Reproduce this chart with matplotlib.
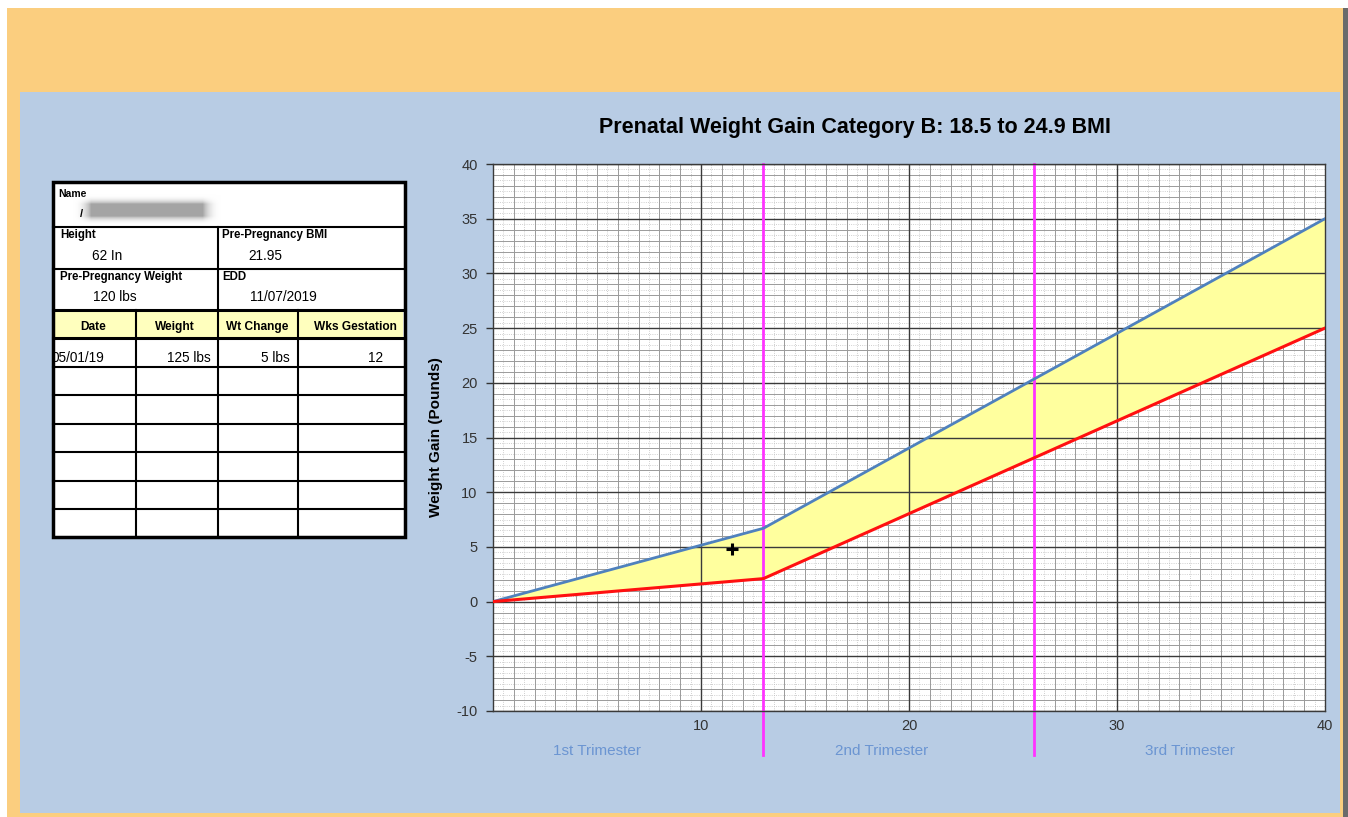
import numpy as np
import matplotlib
matplotlib.use("Agg")
import matplotlib.pyplot as plt
from matplotlib.patches import Rectangle

plt.rcParams['font.family'] = ['Liberation Sans', 'DejaVu Sans']
plt.rcParams['axes.unicode_minus'] = False

# chart data
weeks = [0, 13, 40]
upper_gain = [0, 6.7, 35]
lower_gain = [0, 2.1, 25]
trimester_bounds = [13, 26]
trimester_names = ['1st Trimester', '2nd Trimester', '3rd Trimester']
trimester_pos = [5.0, 18.7, 33.5]
visit_weeks = [11.5]
visit_gain = [4.8]
x_ticks = [10, 20, 30, 40]
y_ticks = [-10, -5, 0, 5, 10, 15, 20, 25, 30, 35, 40]

title = 'Prenatal Weight Gain Category B: 18.5 to 24.9 BMI'

# patient table data
info_labels = ['Height', 'Pre-Pregnancy BMI', 'Pre-Pregnancy Weight', 'EDD']
info_values = ['62 In', '21.95', '120 lbs', '11/07/2019']
table_headers = ['Date', 'Weight', 'Wt Change', 'Wks Gestation']
table_rows = [['05/01/19', '125 lbs', '5 lbs', '12']]

W, H = 1348, 817
fig = plt.figure(figsize=(W / 100, H / 100), dpi=100, facecolor='white')

# background + table drawn in pixel coordinates
bg = fig.add_axes([0, 0, 1, 1], zorder=-1)
bg.set_xlim(0, W)
bg.set_ylim(H, 0)
bg.axis('off')
bg.add_patch(Rectangle((7, 8), 1336, 809, color='#FBCE7F', lw=0))
bg.add_patch(Rectangle((1343, 8), 5, 809, color='#6b6b6b', lw=0))
bg.add_patch(Rectangle((20, 92), 1320, 721, color='#B8CCE4', lw=0))

# table box
L, R, T, B = 53, 405, 182, 537
bg.add_patch(Rectangle((L, T), R - L, B - T, facecolor='white', edgecolor='none'))
bg.add_patch(Rectangle((55, 311), R - 57, 27, facecolor='#FFFFBE', edgecolor='none'))
for yy, lw in [(227, 1.5), (269, 1.5), (310, 2.2), (338, 2.2), (367, 1.5), (395, 1.5),
               (424, 1.5), (452, 1.5), (481, 1.5), (509, 1.5)]:
    bg.plot([L, R], [yy, yy], color='black', lw=lw)
bg.plot([218, 218], [227, 310], color='black', lw=1.5)
for xx in [136, 218, 298]:
    bg.plot([xx, xx], [310, B], color='black', lw=1.5)
bg.add_patch(Rectangle((L, T), R - L, B - T, facecolor='none', edgecolor='black', lw=2.5))

# name field with blurred name
bg.text(58, 194, 'Name', fontsize=7.5, fontweight='bold', va='center')
yy, xx = np.mgrid[0:40, 0:160]
blob = np.minimum(np.clip(xx / 20, 0, 1), np.clip((159 - xx) / 20, 0, 1)) * \
    np.minimum(np.clip(yy / 12, 0, 1), np.clip((39 - yy) / 12, 0, 1))
bg.imshow(blob, extent=(72, 222, 226, 194), cmap='Greys', vmin=0, vmax=2.2,
          alpha=blob, aspect='auto', zorder=3)
bg.text(80, 214, '/', fontsize=8, fontweight='bold', va='center')

info_xy = [(60, 235, 92, 256), (222, 235, 248, 256), (60, 277, 93, 297), (222, 277, 250, 297)]
for (lx, ly, vx, vy), lab, val in zip(info_xy, info_labels, info_values):
    bg.text(lx, ly, lab, fontsize=8.3, fontweight='bold', va='center')
    bg.text(vx, vy, val, fontsize=9.8, va='center')

for cx, h in zip([93, 175, 257, 355], table_headers):
    bg.text(cx, 327, h, fontsize=8.6, fontweight='bold', va='center', ha='center')
for row in table_rows:
    bg.text(51, 358, row[0], fontsize=9.8, va='center', ha='left')
    bg.text(211, 358, row[1], fontsize=9.8, va='center', ha='right')
    bg.text(290, 358, row[2], fontsize=9.8, va='center', ha='right')
    bg.text(383, 358, row[3], fontsize=9.8, va='center', ha='right')

# chart
ax = fig.add_axes([493 / W, 1 - 711 / H, 832 / W, 547 / H])
ax.set_facecolor('white')
ax.set_xlim(0, 40)
ax.set_ylim(-10, 40)

ax.vlines(np.arange(0.5, 40, 1), -10, 40, color='#c0c0c0', lw=0.6, linestyles=':', zorder=0.3)
ax.hlines(np.arange(-9.5, 40, 1), 0, 40, color='#c0c0c0', lw=0.6, linestyles=':', zorder=0.3)
ax.vlines(np.arange(1, 40), -10, 40, color='#9a9a9a', lw=0.7, zorder=0.4)
ax.hlines(np.arange(-9, 40), 0, 40, color='#9a9a9a', lw=0.7, zorder=0.4)

ax.fill_between(weeks, lower_gain, upper_gain, color='#FFFF9E', lw=0, zorder=1)
ax.vlines([10, 20, 30], -10, 40, color='#3a3a3a', lw=1.0, zorder=1.5)
ax.hlines(y_ticks, 0, 40, color='#3a3a3a', lw=1.0, zorder=1.5)

ax.plot(weeks, upper_gain, color='#4F81BD', lw=2, zorder=3)
ax.plot(weeks, lower_gain, color='#FF1010', lw=2.2, zorder=3)
for tb in trimester_bounds:
    ax.plot([tb, tb], [-14, 40], color='#FF33FF', lw=2, zorder=2.5, clip_on=False)
ax.plot(visit_weeks, visit_gain, marker='+', color='black', ms=9, mew=2.2, ls='none', zorder=4)

for name, xp in zip(trimester_names, trimester_pos):
    ax.text(xp, -13.7, name, fontsize=11, color='#6b95d2', ha='center', va='center', clip_on=False)

ax.set_xticks(x_ticks)
ax.set_yticks(y_ticks)
ax.tick_params(axis='x', length=0, pad=6, labelsize=10.5, labelcolor='#333333')
ax.tick_params(axis='y', length=5, width=1, color='#333333', pad=6, labelsize=10.5, labelcolor='#333333')
for s in ax.spines.values():
    s.set_color('#3a3a3a')
    s.set_linewidth(1.0)
ax.set_ylabel('Weight Gain (Pounds)', fontsize=11, fontweight='bold', labelpad=10)

fig.text(855 / W, 1 - 128 / H, title, fontsize=15.5, fontweight='bold', ha='center', va='center')

fig.savefig('out.png', dpi=100)
